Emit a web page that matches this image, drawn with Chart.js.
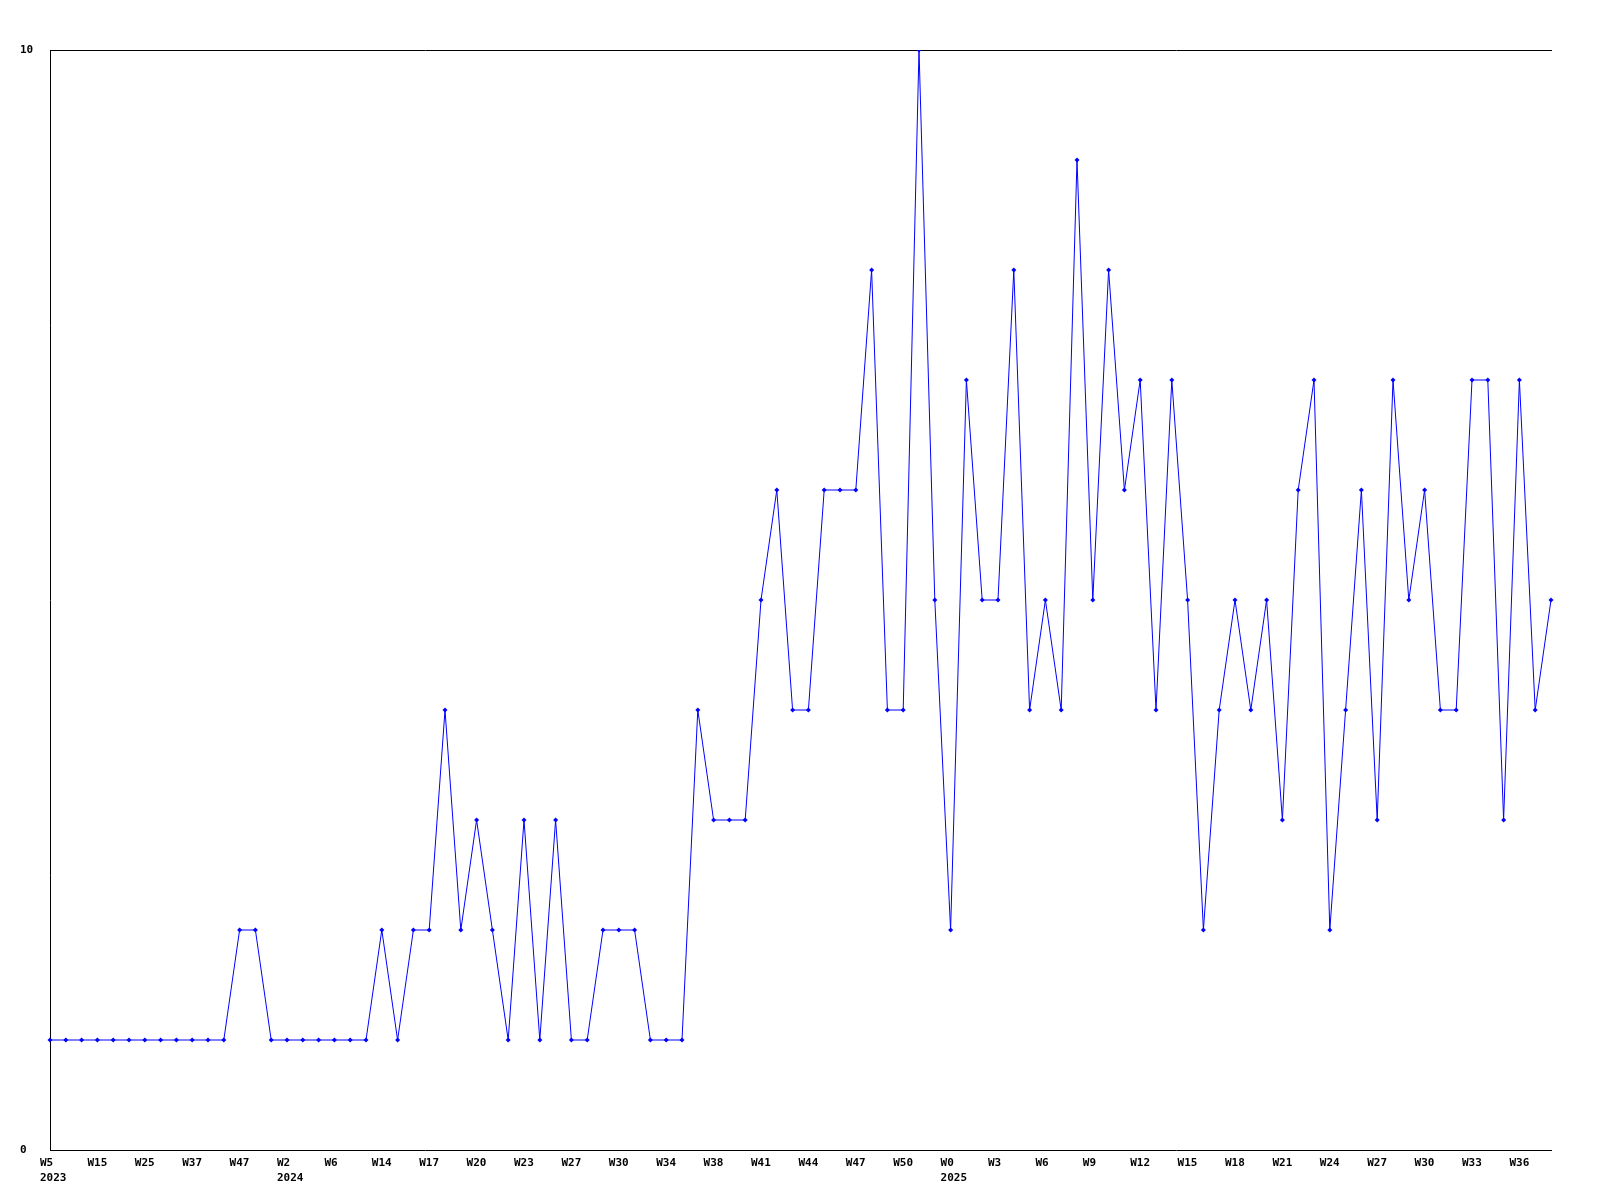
<!DOCTYPE html>
<html>
<head>
<meta charset="utf-8">
<script src="https://cdn.jsdelivr.net/npm/chart.js@4.4.1/dist/chart.umd.min.js"></script>
<style>
  html, body { margin: 0; padding: 0; background: #fff; }
  .wrap { width: 1600px; height: 1200px; }
</style>
</head>
<body>
<div class="wrap"><canvas id="chart" width="1600" height="1200"></canvas></div>
<script>
// weekly counts, one per point
const counts = [
  1, 1, 1, 1, 1, 1, 1, 1, 1, 1, 1, 1,
  2, 2, 1, 1, 1, 1, 1, 1, 1, 2, 1, 2,
  2, 4, 2, 3, 2, 1, 3, 1, 3, 1, 1, 2,
  2, 2, 1, 1, 1, 4, 3, 3, 3, 5, 6, 4,
  4, 6, 6, 6, 8, 4, 4, 10, 5, 2, 7, 5,
  5, 8, 4, 5, 4, 9, 5, 8, 6, 7, 4, 7,
  5, 2, 4, 5, 4, 5, 3, 6, 7, 2, 4, 6,
  3, 7, 5, 6, 4, 4, 7, 7, 3, 7, 4, 5
];

// one label every third point
const weekTicks = [
  'W5', 'W15', 'W25', 'W37', 'W47', 'W2', 'W6', 'W14', 'W17', 'W20', 'W23',
  'W27', 'W30', 'W34', 'W38', 'W41', 'W44', 'W47', 'W50', 'W0', 'W3', 'W6',
  'W9', 'W12', 'W15', 'W18', 'W21', 'W24', 'W27', 'W30', 'W33', 'W36'
];
const yearTicks = { 0: '2023', 5: '2024', 19: '2025' };
const yTicks = [0, 10];

const labels = counts.map((_, i) => {
  if (i % 3 !== 0) return '';
  const k = i / 3;
  return [weekTicks[k], yearTicks[k] || ''];
});

const tickFont = { family: 'DejaVu Sans Mono', size: 11, weight: 'bold', lineHeight: 1.4 };

new Chart(document.getElementById('chart'), {
  type: 'line',
  data: {
    labels,
    datasets: [{
      data: counts,
      borderColor: '#0000ff',
      backgroundColor: '#0000ff',
      borderWidth: 1,
      pointStyle: 'rectRot',
      pointRadius: 2.5,
      pointBorderWidth: 0,
      tension: 0,
      fill: false
    }]
  },
  options: {
    responsive: false,
    animation: false,
    events: [],
    layout: { padding: { left: 20, right: 49, top: 50, bottom: 0 } },
    plugins: { legend: { display: false }, tooltip: { enabled: false } },
    scales: {
      x: {
        type: 'category',
        offset: false,
        grid: { display: false, drawTicks: false },
        border: { display: true, color: '#000', width: 1 },
        ticks: {
          autoSkip: false,
          maxRotation: 0,
          minRotation: 0,
          align: 'start',
          labelOffset: -10,
          padding: 5,
          color: '#000',
          font: tickFont
        },
        afterFit: s => { s.height = 50; }
      },
      x2: {
        type: 'category',
        labels,
        position: 'top',
        offset: false,
        grid: { display: false, drawTicks: false },
        border: { display: true, color: '#000', width: 1 },
        ticks: { display: false },
        afterFit: s => { s.height = 0; }
      },
      y: {
        min: 0,
        max: 10,
        afterBuildTicks: s => { s.ticks = yTicks.map(v => ({ value: v })); },
        grid: { display: false, drawTicks: false },
        border: { display: true, color: '#000', width: 1 },
        ticks: {
          crossAlign: 'far',
          color: '#000',
          font: tickFont
        },
        afterFit: s => { s.width = 30; }
      }
    }
  }
});
</script>
</body>
</html>
